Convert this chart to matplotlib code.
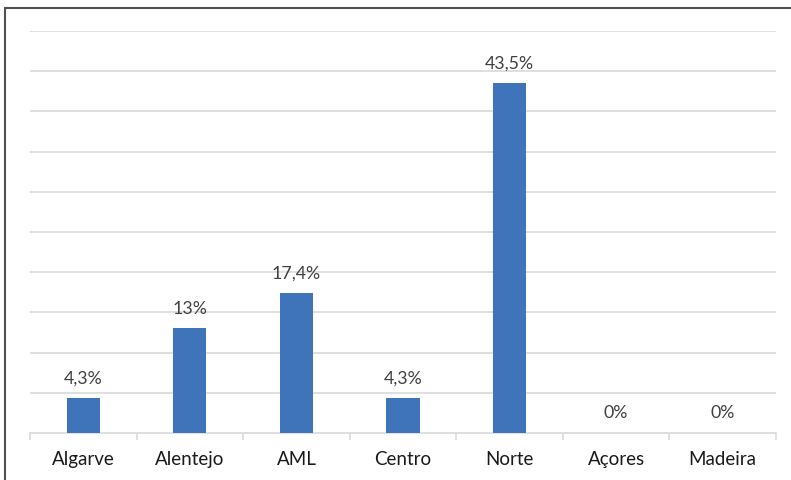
import matplotlib.pyplot as plt
from matplotlib.patches import Rectangle
import numpy as np

regions = ["Algarve", "Alentejo", "AML", "Centro", "Norte", "Açores", "Madeira"]
values = [4.3, 13.0, 17.4, 4.3, 43.5, 0.0, 0.0]
value_labels = ["4,3%", "13%", "17,4%", "4,3%", "43,5%", "0%", "0%"]

plt.rcParams['font.family'] = ['Lato', 'DejaVu Sans']

fig = plt.figure(figsize=(7.91, 4.81), dpi=100)
ax = fig.add_axes([30 / 791, 47 / 481, 746 / 791, 402 / 481])

x = np.arange(len(regions))
bars = ax.bar(x, values, width=0.31, color='#3F73BA', zorder=3)

for b, lab in zip(bars, value_labels):
    ax.annotate(lab, (b.get_x() + b.get_width() / 2, b.get_height()),
                xytext=(0, 9), textcoords='offset points',
                ha='center', va='bottom', fontsize=12.8, color='#404040')

ax.set_xlim(-0.5, len(regions) - 0.5)
ax.set_ylim(0, 50)
ax.set_yticks(np.arange(5, 51, 5))
ax.yaxis.grid(True, color='#D9D9D9', linewidth=1.2, zorder=0)
ax.tick_params(axis='y', left=False, labelleft=False)

ax.set_xticks(x)
ax.set_xticklabels(regions, fontsize=13.5, color='#1a1a1a')
ax.tick_params(axis='x', which='major', length=0, pad=12)
ax.set_xticks(np.arange(-0.5, len(regions), 1), minor=True)
ax.tick_params(axis='x', which='minor', length=5, color='#D9D9D9', width=1.2)

for s in ['top', 'right', 'left']:
    ax.spines[s].set_visible(False)
ax.spines['bottom'].set_color('#D9D9D9')
ax.spines['bottom'].set_linewidth(1.2)

fig.patches.append(Rectangle((5 / 791, -0.1), 1.2, (481 - 9) / 481 + 0.1,
                             transform=fig.transFigure, fill=False,
                             edgecolor='#505050', linewidth=1.5))

fig.savefig('out.png', dpi=100)
